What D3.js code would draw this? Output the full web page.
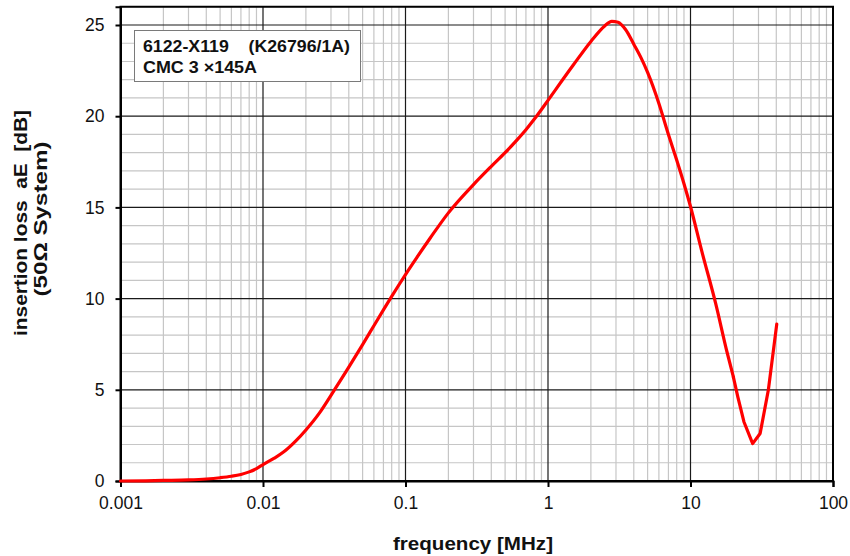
<!DOCTYPE html>
<html>
<head>
<meta charset="utf-8">
<script src="https://cdn.jsdelivr.net/npm/d3@7"></script>
<style>
  html, body { margin: 0; padding: 0; background: #fff; }
  svg { display: block; font-family: "Liberation Sans", Arial, sans-serif; }
</style>
</head>
<body>
<svg id="chart" width="850" height="556"></svg>
<script>
// ---- data ----
const freq = [0.001, 0.0015, 0.002, 0.003, 0.004, 0.005, 0.006, 0.007, 0.008, 0.009,
  0.01, 0.012, 0.014, 0.017, 0.02, 0.025, 0.03, 0.04, 0.05, 0.06, 0.07, 0.08, 0.09,
  0.1, 0.12, 0.15, 0.2, 0.3, 0.4, 0.5, 0.6, 0.7, 0.8, 0.9,
  1, 1.5, 2, 2.5, 2.8, 3.1, 3.5, 4, 4.5, 5, 6, 7, 8, 9,
  10, 12, 15, 18, 20, 21.5, 23.7, 27.3, 30.8, 35.2, 40.3];
const loss = [0, 0.01, 0.03, 0.06, 0.11, 0.18, 0.26, 0.36, 0.5, 0.68,
  0.9, 1.25, 1.6, 2.2, 2.8, 3.75, 4.7, 6.24, 7.48, 8.51, 9.38, 10.12, 10.76,
  11.32, 12.25, 13.35, 14.7, 16.25, 17.25, 18.0, 18.66, 19.26, 19.83, 20.37,
  20.87, 22.79, 24.1, 24.95, 25.2, 25.15, 24.75, 23.95, 23.2, 22.4, 20.7, 19.0, 17.6, 16.3,
  15.05, 12.6, 9.75, 7.1, 5.7, 4.6, 3.25, 2.05, 2.6, 5.0, 8.6];
const xTickValues = [0.001, 0.01, 0.1, 1, 10, 100];
const xTickLabels = ["0.001", "0.01", "0.1", "1", "10", "100"];
const yTickValues = [0, 5, 10, 15, 20, 25];
const xTitle = "frequency [MHz]";
const yTitle1 = "insertion loss  aE  [dB]";
const yTitle2 = "(50\u03A9 System)";
const boxLine1 = "6122-X119    (K26796/1A)";
const boxLine2 = "CMC 3 \u00D7145A";

// ---- layout ----
const svg = d3.select("#chart");
const x = d3.scaleLog().domain([0.001, 100]).range([120.5, 833]);
const y = d3.scaleLinear().domain([0, 26]).range([481, 6.76]);
const [x0, x1] = x.range();
const [y0, y1] = y.range();

// minor grid
const minorX = [];
for (let e = -3; e < 2; e++) for (let m = 2; m <= 9; m++) minorX.push(m * Math.pow(10, e));
const minorY = d3.range(0, 27).filter(v => v % 5 !== 0);

const g = svg.append("g");
g.selectAll(".mx").data(minorX).join("line")
  .attr("x1", d => x(d)).attr("x2", d => x(d)).attr("y1", y0).attr("y2", y1)
  .attr("stroke", "#c6c6c6").attr("stroke-width", 1.2);
g.selectAll(".my").data(minorY).join("line")
  .attr("x1", x0).attr("x2", x1).attr("y1", d => y(d)).attr("y2", d => y(d))
  .attr("stroke", "#c6c6c6").attr("stroke-width", 1.2);
// major grid
g.selectAll(".Mx").data(xTickValues.slice(1, -1)).join("line")
  .attr("x1", d => x(d)).attr("x2", d => x(d)).attr("y1", y0).attr("y2", y1)
  .attr("stroke", "#1a1a1a").attr("stroke-width", 1.2);
g.selectAll(".My").data(yTickValues.slice(1)).join("line")
  .attr("x1", x0).attr("x2", x1).attr("y1", d => y(d)).attr("y2", d => y(d))
  .attr("stroke", "#1a1a1a").attr("stroke-width", 1.2);

// frame
svg.append("rect").attr("x", x0).attr("y", y1).attr("width", x1 - x0).attr("height", y0 - y1)
  .attr("fill", "none").attr("stroke", "#000").attr("stroke-width", 2);

// axes
const xAxis = d3.axisBottom(x).tickValues(xTickValues)
  .tickFormat((d, i) => xTickLabels[i]).tickSize(6).tickPadding(10);
const gx = svg.append("g").attr("transform", `translate(0,${y0})`).call(xAxis);
gx.select(".domain").attr("stroke", "#000").attr("stroke-width", 2);
gx.selectAll(".tick line").attr("stroke", "#000").attr("stroke-width", 2);
gx.selectAll(".tick text").attr("font-size", 17.5).attr("fill", "#111")
  .attr("font-family", "Liberation Sans, Arial, sans-serif");

const yAxis = d3.axisLeft(y).tickValues(yTickValues).tickSize(5).tickPadding(11);
const gy = svg.append("g").attr("transform", `translate(${x0},0)`).call(yAxis);
gy.select(".domain").attr("stroke", "#000").attr("stroke-width", 2);
gy.selectAll(".tick line").attr("stroke", "#000").attr("stroke-width", 2);
gy.selectAll(".tick text").attr("font-size", 17.5).attr("fill", "#111")
  .attr("font-family", "Liberation Sans, Arial, sans-serif");

// curve: smooth part up to 20 MHz, straight segments around the notch
const pts = freq.map((f, i) => [f, loss[i]]);
const smooth = pts.filter(d => d[0] <= 20);
const sharp = pts.filter(d => d[0] >= 20);
const lineSmooth = d3.line().x(d => x(d[0])).y(d => y(d[1])).curve(d3.curveMonotoneX);
const lineSharp = d3.line().x(d => x(d[0])).y(d => y(d[1])).curve(d3.curveLinear);
[[smooth, lineSmooth], [sharp, lineSharp]].forEach(([data, gen]) => {
  svg.append("path").datum(data)
    .attr("d", gen).attr("fill", "none").attr("stroke", "#ff0000")
    .attr("stroke-width", 3.2).attr("stroke-linejoin", "round").attr("stroke-linecap", "round");
});

// annotation box
svg.append("rect").attr("x", 134.5).attr("y", 30.5).attr("width", 226).attr("height", 51)
  .attr("fill", "#fff").attr("stroke", "#7a7a7a").attr("stroke-width", 1);
svg.append("text").attr("x", 143).attr("y", 52).attr("font-size", 17).attr("font-weight", "bold")
  .attr("fill", "#111").style("white-space", "pre")
  .attr("textLength", 207).attr("lengthAdjust", "spacingAndGlyphs").text(boxLine1);
svg.append("text").attr("x", 143).attr("y", 73).attr("font-size", 17).attr("font-weight", "bold")
  .attr("fill", "#111").style("white-space", "pre")
  .attr("textLength", 114).attr("lengthAdjust", "spacingAndGlyphs").text(boxLine2);

// axis titles
svg.append("text").attr("x", 473).attr("y", 550).attr("text-anchor", "middle")
  .attr("font-size", 19).attr("font-weight", "bold").attr("fill", "#111")
  .attr("textLength", 160).attr("lengthAdjust", "spacingAndGlyphs").text(xTitle);
svg.append("text").attr("transform", "translate(27,223) rotate(-90)").attr("text-anchor", "middle")
  .attr("font-size", 18).attr("font-weight", "bold").attr("fill", "#111")
  .style("white-space", "pre")
  .attr("textLength", 226).attr("lengthAdjust", "spacingAndGlyphs").text(yTitle1);
svg.append("text").attr("transform", "translate(46.5,219) rotate(-90)").attr("text-anchor", "middle")
  .attr("font-size", 18).attr("font-weight", "bold").attr("fill", "#111")
  .style("white-space", "pre")
  .attr("textLength", 155).attr("lengthAdjust", "spacingAndGlyphs").text(yTitle2);
</script>
</body>
</html>
